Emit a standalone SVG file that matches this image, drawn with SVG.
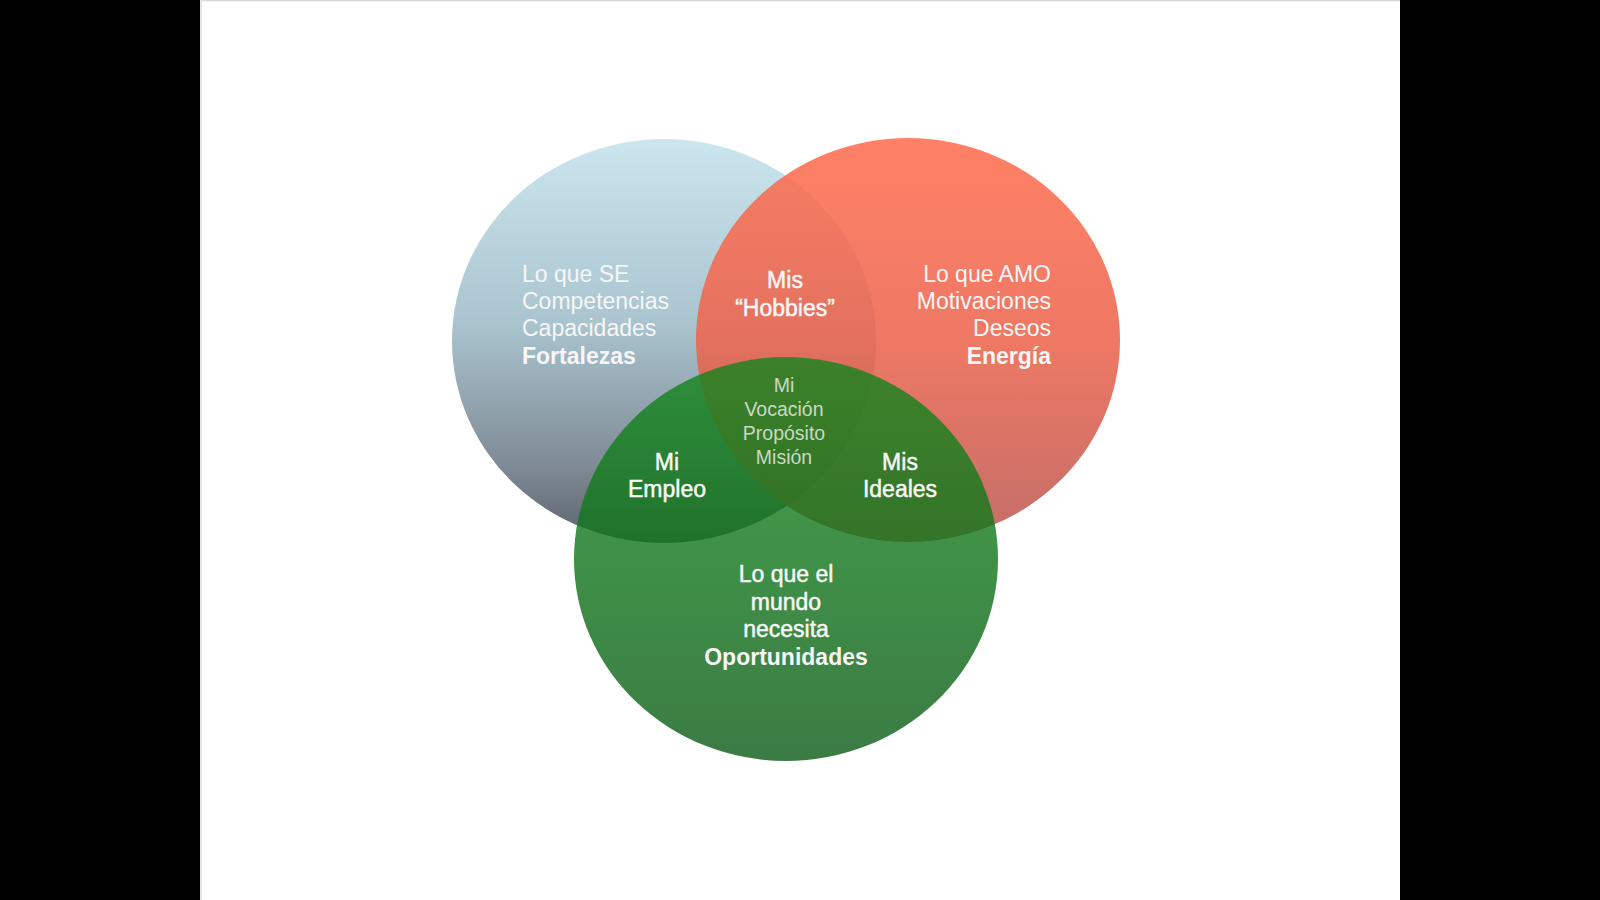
<svg xmlns="http://www.w3.org/2000/svg" width="1600" height="900" viewBox="0 0 1600 900">
  <defs>
    <linearGradient id="gBlue" x1="0" y1="0" x2="0" y2="1">
      <stop offset="0" stop-color="#cbe6ee"/>
      <stop offset="0.45" stop-color="#aac5cf"/>
      <stop offset="0.8" stop-color="#808c97"/>
      <stop offset="1" stop-color="#5c636c"/>
    </linearGradient>
    <linearGradient id="gRed" x1="0" y1="0" x2="0" y2="1">
      <stop offset="0" stop-color="#ff6f51"/>
      <stop offset="0.5" stop-color="#ec664f"/>
      <stop offset="1" stop-color="#bb5a53"/>
    </linearGradient>
    <linearGradient id="gGreen" x1="0" y1="0" x2="0" y2="1">
      <stop offset="0" stop-color="#13861c"/>
      <stop offset="0.5" stop-color="#0f7419"/>
      <stop offset="1" stop-color="#0a5a15"/>
    </linearGradient>
    <style>
      .t { font-family: "Liberation Sans", Arial, sans-serif; font-size: 23px; fill: #f6f6f6; }
      .b { font-weight: bold; }
      .s { stroke: #f6f6f6; stroke-width: 0.5; }
      .m { text-anchor: middle; }
      .e { text-anchor: end; }
      .c { font-family: "Liberation Sans", Arial, sans-serif; font-size: 19.5px; fill: #c9d9c4; text-anchor: middle; }
    </style>
  </defs>
  <rect x="0" y="0" width="1600" height="900" fill="#000"/>
  <rect x="200" y="0" width="1200" height="900" fill="#fff"/>
  <line x1="200" y1="0.5" x2="1400" y2="0.5" stroke="#d8d8d8" stroke-width="1.5"/>
  <line x1="201" y1="0" x2="201" y2="900" stroke="#e6e6e6" stroke-width="2"/>

  <g id="node-se">
    <ellipse cx="664" cy="341" rx="212" ry="202" fill="url(#gBlue)"/>
  </g>
  <g id="node-amo">
    <ellipse cx="908" cy="340" rx="212" ry="202" fill="url(#gRed)" fill-opacity="0.88"/>
  </g>
  <g id="node-mundo">
    <ellipse cx="786" cy="559" rx="212" ry="202" fill="url(#gGreen)" fill-opacity="0.8"/>
  </g>

  <g id="connectors"></g>

  <g id="label-se" class="t">
    <text x="522" y="282">Lo que SE</text>
    <text x="522" y="309">Competencias</text>
    <text x="522" y="336">Capacidades</text>
    <text x="522" y="364" class="b">Fortalezas</text>
  </g>
  <g id="label-amo" class="t e">
    <text x="1051" y="282">Lo que AMO</text>
    <text x="1051" y="309">Motivaciones</text>
    <text x="1051" y="336">Deseos</text>
    <text x="1051" y="364" class="b">Energía</text>
  </g>
  <g id="node-hobbies" class="t m s">
    <text x="785" y="288">Mis</text>
    <text x="785" y="316">“Hobbies”</text>
  </g>
  <g id="node-vocacion" class="c">
    <text x="784" y="392">Mi</text>
    <text x="784" y="416">Vocación</text>
    <text x="784" y="440">Propósito</text>
    <text x="784" y="464">Misión</text>
  </g>
  <g id="node-empleo" class="t m s">
    <text x="667" y="470">Mi</text>
    <text x="667" y="497">Empleo</text>
  </g>
  <g id="node-ideales" class="t m s">
    <text x="900" y="470">Mis</text>
    <text x="900" y="497">Ideales</text>
  </g>
  <g id="label-mundo" class="t m">
    <text x="786" y="582" class="s">Lo que el</text>
    <text x="786" y="610" class="s">mundo</text>
    <text x="786" y="637" class="s">necesita</text>
    <text x="786" y="665" class="b">Oportunidades</text>
  </g>
</svg>
